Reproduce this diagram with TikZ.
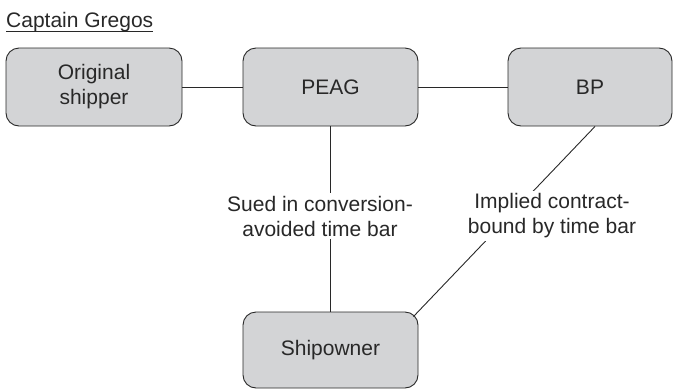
\documentclass[tikz,border=0pt]{standalone}
\usepackage{fontspec}
\setmainfont{Liberation Sans}
\usetikzlibrary{calc}
\definecolor{boxfill}{RGB}{211,212,214}
\definecolor{ink}{RGB}{40,40,40}
\begin{document}
\begin{tikzpicture}[x=1pt,y=-1pt,
  every node/.style={font=\fontsize{21}{25}\selectfont, text=ink},
  party/.style={draw=ink, line width=0.9pt, fill=boxfill, rounded corners=13pt, align=center, inner sep=0pt},
  conn/.style={draw=ink, line width=0.9pt},
  lbl/.style={fill=white, align=center, inner sep=3pt}]
\useasboundingbox (0,0) rectangle (675,389);
\node[anchor=base west, inner sep=0pt] (title) at (6,27) {Captain Gregos};
\draw[conn] ($(title.base west)+(0,4)$) coordinate (ul1) -- ($(title.base east)+(0,4)$) coordinate (ul2);
\node[party, minimum width=176pt, minimum height=78pt] (orig) at (94,87) {Original\\shipper};
\node[party, minimum width=175pt, minimum height=78pt] (peag) at (330.5,87) {PEAG};
\node[party, minimum width=164pt, minimum height=78pt] (bp) at (590,87) {BP};
\node[party, minimum width=175pt, minimum height=76pt] (ship) at (330.5,350) {Shipowner};
\draw[conn] (orig.east) -- (peag.west);
\draw[conn] (peag.east) -- (bp.west);
\draw[conn] (peag.south) -- (ship.north);
\draw[conn] ($(bp.south)+(5,0)$) -- ($(ship.north east)+(-5,5)$);
\node[lbl] (l1) at (320,216) {Sued in conversion-\\avoided time bar};
\node[lbl] (l2) at (552,216) {Implied contract-\\bound by time bar};
\end{tikzpicture}
\end{document}
